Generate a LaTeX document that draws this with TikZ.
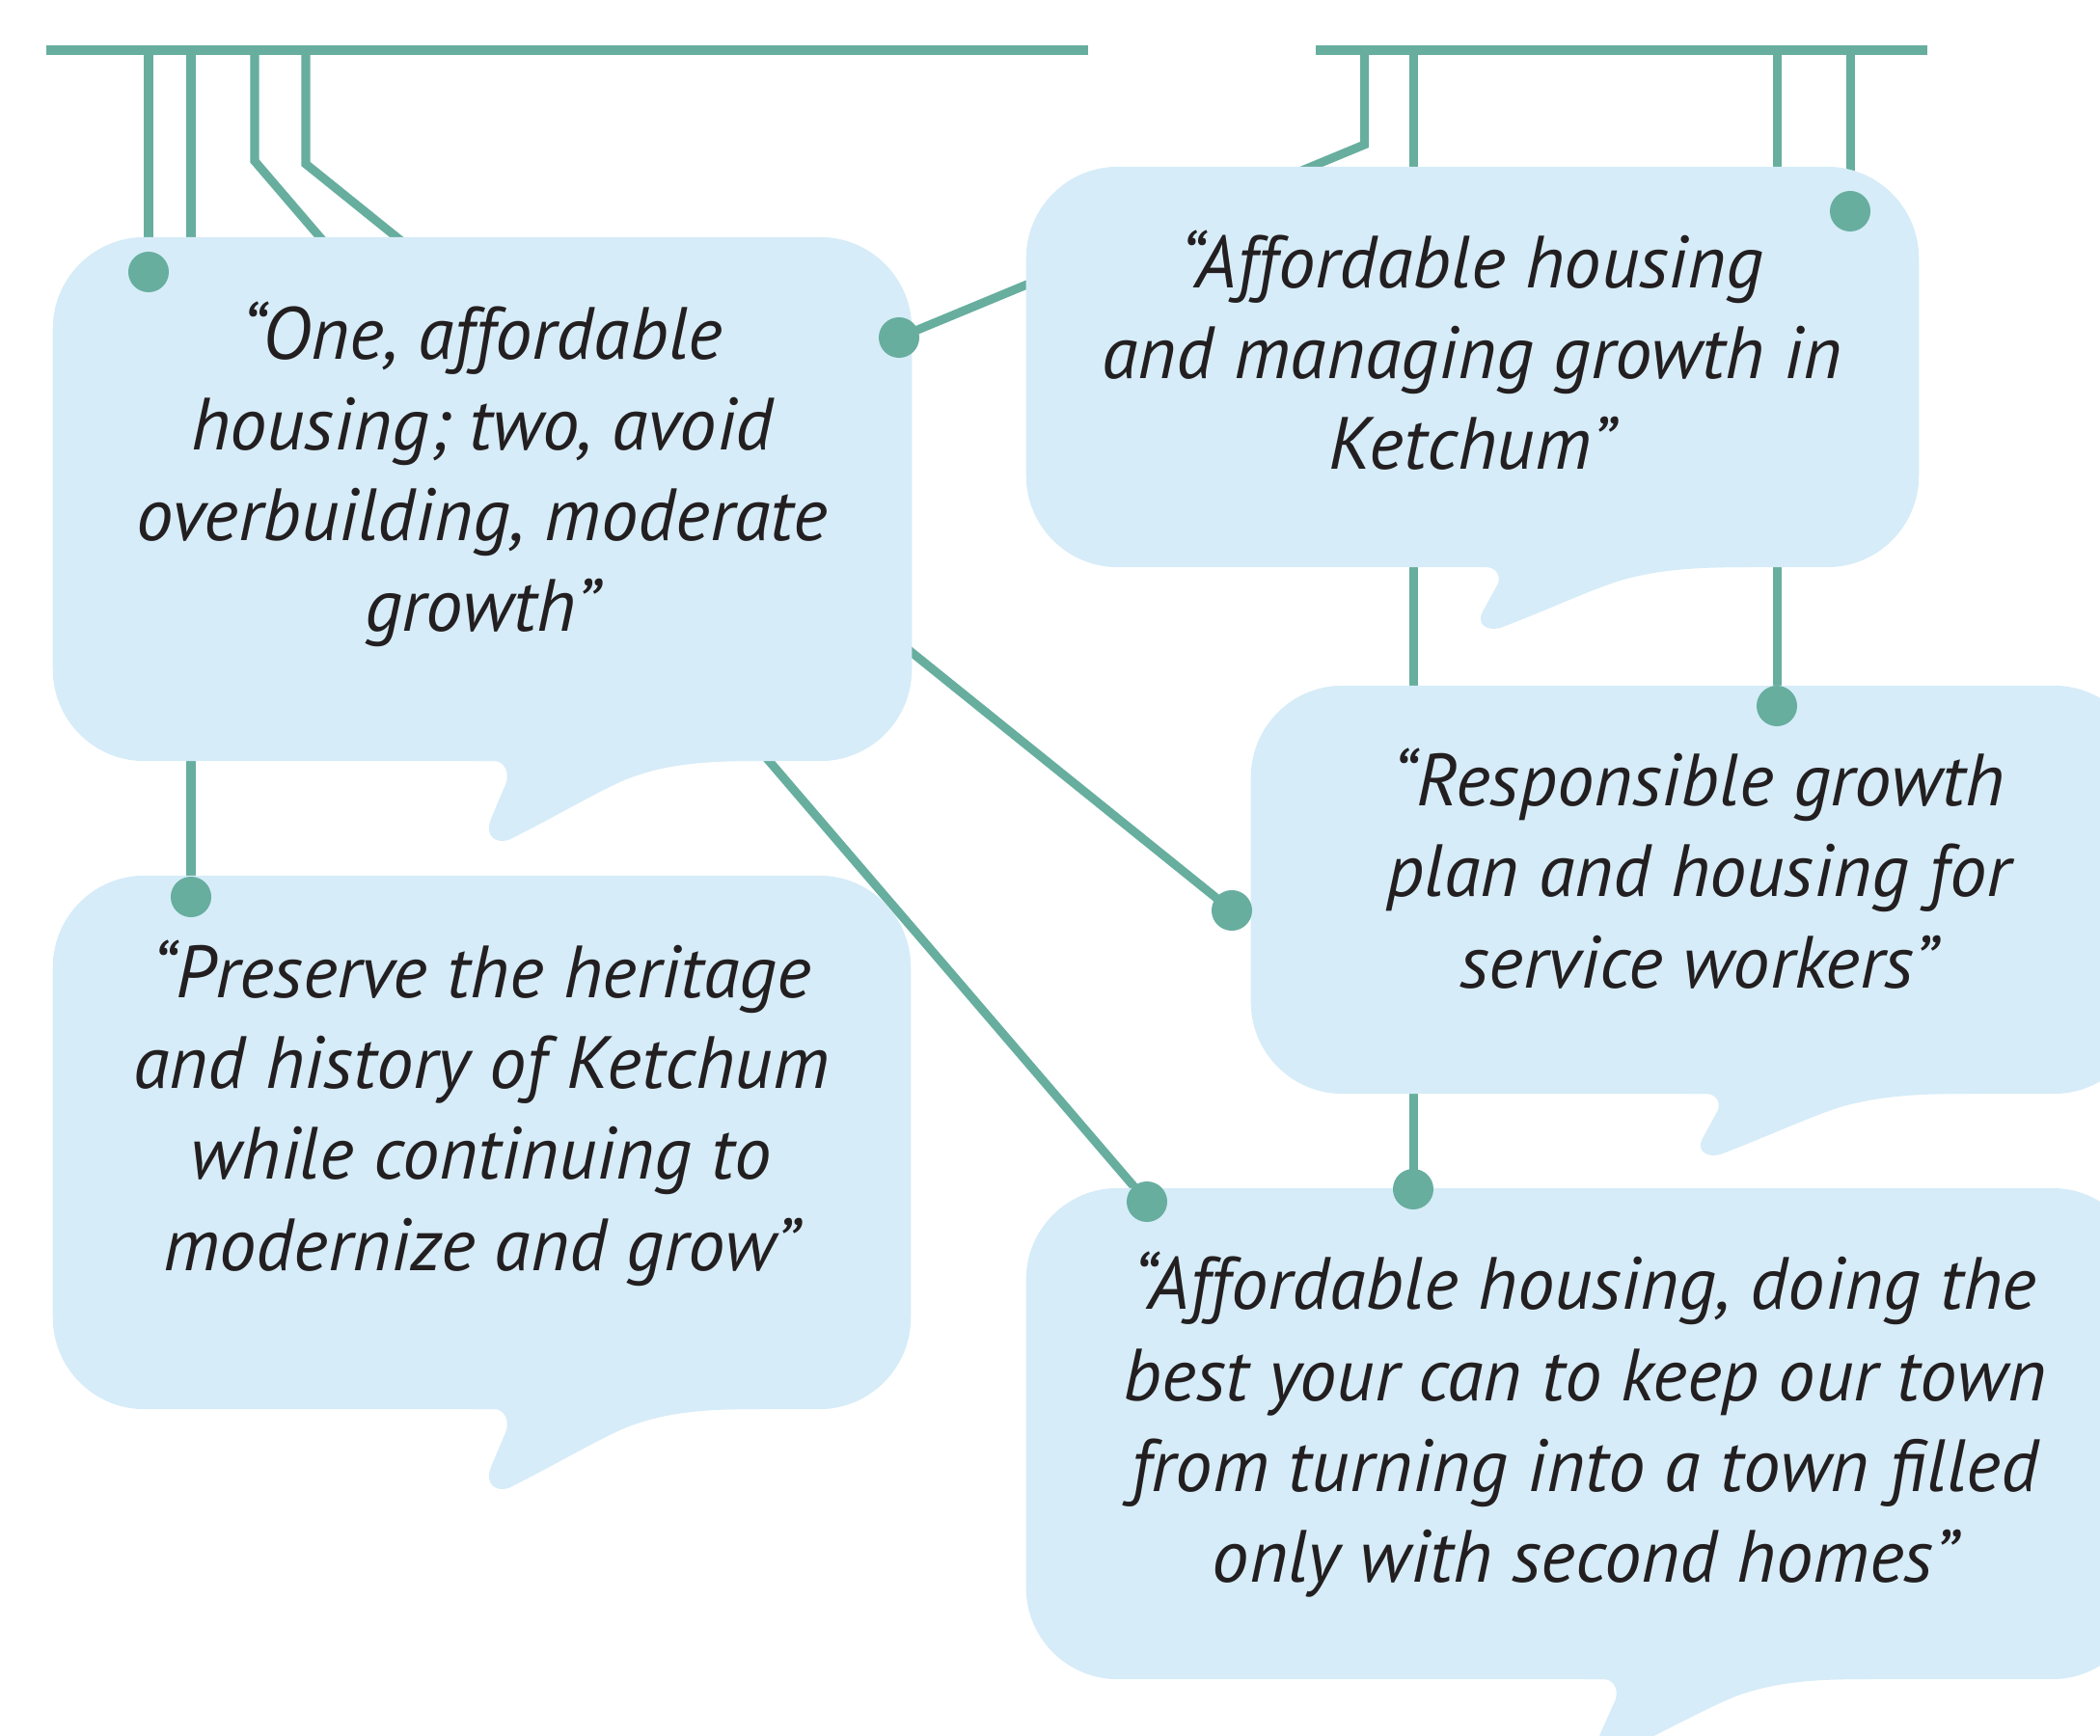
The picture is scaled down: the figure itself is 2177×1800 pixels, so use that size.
\documentclass[tikz,border=0pt]{standalone}
\usepackage{fontspec}
\setmainfont{PT Sans}
\definecolor{teal1}{HTML}{67AE9F}
\definecolor{bubblefill}{HTML}{D6ECF8}
\definecolor{ink}{HTML}{231F20}
\pgfdeclarelayer{lines}
\pgfsetlayers{lines,main}
\begin{document}
\begin{tikzpicture}[x=0.01cm,y=-0.01cm,
  bar/.style={draw=teal1, line width=0.10cm},
  wire/.style={draw=teal1, line width=0.09cm},
  dot/.style={circle, fill=teal1, minimum size=0.42cm, inner sep=0pt},
  bubble/.style={rectangle, rounded corners=0.95cm, fill=bubblefill, inner sep=0pt},
  quote/.style={align=center, font=\itshape\fontsize{21.8}{26.8}\selectfont, text=ink, anchor=base, inner sep=0pt},
  tail/.pic={\fill[bubblefill] (-20,-5) -- (-20,0) -- (0,0) .. controls (10,0) and (16,10) .. (13,22) -- (-3,60) .. controls (-10,78) and (2,86) .. (15,82) .. controls (60,60) and (110,30) .. (140,18) .. controls (180,3) and (220,0) .. (275,0) -- (275,-5) -- cycle;}
]
\useasboundingbox (0,0) rectangle (2177,1800);

% speech bubbles
\node[bubble, minimum width=8.90cm, minimum height=5.43cm] (b1) at (500,517.5) {};
\node[bubble, minimum width=8.89cm, minimum height=5.53cm] (b2) at (499.5,1184.5) {};
\node[bubble, minimum width=9.25cm, minimum height=4.15cm] (b3) at (1526.5,380.5) {};
\node[bubble, minimum width=9.27cm, minimum height=4.23cm] (b4) at (1760.5,922.5) {};
\node[bubble, minimum width=11.58cm, minimum height=5.09cm] (b5) at (1643,1486.5) {};
\pic at (512,789) {tail};
\pic at (512,1461) {tail};
\pic[yscale=0.77] at (1540,588) {tail};
\pic[yscale=0.77] at (1768,1134) {tail};
\pic[yscale=0.94] at (1662,1741) {tail};

% quotes (anchored at the baseline of their last line)
\node[quote] (q1) at (500,655) {“One, affordable\\housing; two, avoid\\overbuilding, moderate\\growth”};
\node[quote] (q2) at (499,1317) {“Preserve the heritage\\and history of Ketchum\\while continuing to\\modernize and grow”};
\node[quote] (q3) at (1526,487) {“Affordable housing\\and managing growth in\\Ketchum”};
\node[quote] (q4) at (1761,1024) {“Responsible growth\\plan and housing for\\service workers”};
\node[quote] (q5) at (1643,1640.5) {“Affordable housing, doing the\\best your can to keep our town\\from turning into a town filled\\only with second homes”};

% dots
\node[dot] (d1) at (154,282) {};
\node[dot] (d1b) at (932,350) {};
\node[dot] (d2) at (198,930) {};
\node[dot] (d3) at (1918,219) {};
\node[dot] (d4a) at (1277,944) {};
\node[dot] (d4b) at (1842,732) {};
\node[dot] (d5a) at (1189,1246) {};
\node[dot] (d5b) at (1465,1233) {};

% bar and wire coordinates
\coordinate (barLa) at (47.5,52.5);
\coordinate (barLb) at (1127.5,52.5);
\coordinate (barRa) at (1364,52.5);
\coordinate (barRb) at (1997.5,52.5);
\coordinate (t1) at (154,52.5);
\coordinate (t2) at (198,52.5);
\coordinate (t3) at (264,52.5);
\coordinate (k3) at (264,167);
\coordinate (t4) at (317,52.5);
\coordinate (k4) at (317,170);
\coordinate (t5) at (1414.5,52.5);
\coordinate (k5) at (1414.5,150);
\coordinate (t6) at (1465,52.5);
\coordinate (t7) at (1842,52.5);
\coordinate (t8) at (1918,52.5);

\begin{pgfonlayer}{lines}
\draw[bar] (barLa) -- (barLb);
\draw[bar] (barRa) -- (barRb);
\draw[wire] (t1) -- (d1.center);
\draw[wire] (t2) -- (d2.center);
\draw[wire] (t3) -- (k3) -- (d5a.center);
\draw[wire] (t4) -- (k4) -- (d4a.center);
\draw[wire] (t5) -- (k5) -- (d1b.center);
\draw[wire] (t6) -- (d5b.center);
\draw[wire] (t7) -- (d4b.center);
\draw[wire] (t8) -- (d3.center);
\end{pgfonlayer}
\end{tikzpicture}
\end{document}
